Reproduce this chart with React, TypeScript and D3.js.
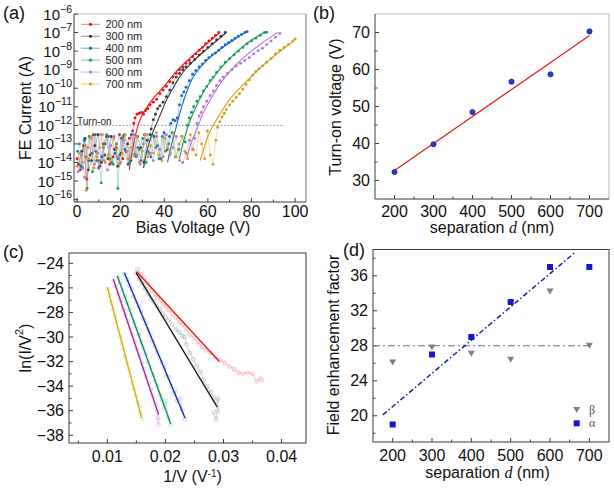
import React from 'react';
import * as d3 from 'd3';

type P = [number, number];

// ---------- Panel (a) data: [bias voltage V, log10(current A)] ----------
const SERIES_A = ['200 nm', '300 nm', '400 nm', '500 nm', '600 nm', '700 nm'];
const COLORS_A = ['#e8141c', '#3a3a3a', '#1767c8', '#1e9a66', '#b276d6', '#d1a01e'];

const A200: P[] = [[0,-13.8],[1.5,-14.4],[3,-13.1],[4.5,-14.9],[6,-13.6],[7.5,-12.5],[9,-13.9],[10.5,-14.2],[12,-13.0],[13.5,-12.6],[15,-14.1],[16.5,-13.7],[18,-13.2],[19.5,-12.5],[21,-13.8],[22.5,-13.4],[24,-12.7],
  [25.5,-12.3],[26,-11.9],[26.6,-11.6],[27.5,-11.4],[28.5,-11.35],[29.5,-11.3],[30.5,-11.4],[31.5,-11.2],[32.5,-11.1],[33.5,-10.9],[35,-10.75],[36.5,-10.6],[38,-10.3],[39.5,-10.1],[41,-9.9],[42.5,-9.65],[44,-9.4],[45.5,-9.2],[47,-9.0],[48.5,-8.85],[50,-8.65],[51.5,-8.5],[53,-8.3],[54.5,-8.15],[56,-7.95],[57.5,-7.8],[59,-7.6],[60.5,-7.45],[62,-7.3],[63.5,-7.15],[65,-7.0]];
const A300: P[] = [[0.7,-14.1],[2.2,-13.4],[3.7,-12.7],[5.2,-14.4],[6.7,-13.9],[8.2,-13.1],[9.7,-12.5],[11.2,-14.0],[12.7,-13.6],[14.2,-13.8],[15.7,-12.6],[17.2,-13.3],[18.7,-14.2],[20.2,-13.5],[21.7,-12.5],[23.2,-13.0],[24.7,-13.9],[26.2,-13.6],[27.7,-12.6],[29.2,-13.2],[30.7,-14.0],[32.2,-12.8],[33.5,-12.5],
  [34,-12.2],[35,-11.7],[36,-11.4],[37,-11.1],[38,-10.95],[39.5,-10.75],[41,-10.45],[42.5,-10.1],[44,-9.7],[45.5,-9.4],[47,-9.2],[48.5,-9.0],[50,-8.85],[52,-8.65],[54,-8.45],[56,-8.2],[58,-8.0],[60,-7.8],[62,-7.6],[64,-7.4],[66,-7.2],[68,-7.0]];
const A400: P[] = [[0.3,-13.4],[1.8,-14.2],[3.3,-12.8],[4.6,-15.4],[5.4,-13.9],[6.9,-13.5],[8.4,-12.5],[9.9,-14.3],[11.4,-13.7],[12.9,-13.0],[14.4,-12.6],[15.9,-14.0],[17.4,-13.5],[18.9,-13.8],[20.4,-12.7],[21.9,-13.3],[23.4,-14.1],[24.9,-12.5],[26.4,-13.6],[27.9,-13.2],[29.4,-13.9],[30.9,-12.5],[32.4,-13.4],[33.9,-13.7],[35.4,-12.6],[36.9,-13.1],[38.4,-13.8],[39.9,-12.4],[41.4,-13.3],[42.4,-12.6],
  [43,-11.9],[44,-11.7],[45,-11.75],[46,-11.6],[47,-10.9],[48,-10.4],[49,-10.2],[50,-9.95],[51.5,-9.6],[53,-9.25],[54.5,-9.05],[56,-8.85],[57.5,-8.7],[59,-8.5],[60.5,-8.35],[62,-8.2],[63.5,-8.1],[65,-7.95],[66.5,-7.8],[68,-7.65],[69.5,-7.55],[71,-7.42],[72.5,-7.3],[74,-7.2],[75.5,-7.1],[77,-7.0],[78,-6.95]];
const A500: P[] = [[1.1,-13.0],[2.6,-14.3],[4.1,-13.7],[5.6,-12.6],[7.1,-14.5],[8.6,-13.4],[10.1,-13.9],[11.1,-15.1],[12.1,-13.2],[13.6,-12.5],[15.1,-13.8],[16.6,-14.1],[18.1,-13.0],[18.7,-15.4],[19.6,-13.6],[21.1,-12.6],[22.6,-13.4],[24.1,-14.0],[25.6,-12.5],[27.1,-13.7],[28.6,-13.3],[30.1,-12.7],[31.6,-14.0],[33.1,-13.5],[34.6,-12.5],[36.1,-13.2],[37.6,-13.8],[39.1,-12.6],[40.6,-13.4],[42.1,-13.0],[43.6,-12.4],[45.1,-13.7],[46.6,-13.3],[48.1,-12.6],[49.6,-12.9],
  [50.5,-12.0],[51.5,-11.6],[52.5,-11.3],[53.5,-11.0],[55,-10.7],[56.5,-10.45],[58,-10.15],[59.5,-9.9],[61,-9.6],[62.5,-9.4],[64,-9.15],[66,-8.85],[68,-8.6],[70,-8.4],[72,-8.2],[74,-8.0],[76,-7.8],[78,-7.6],[80,-7.45],[82,-7.3],[84,-7.15],[86,-7.0],[87,-6.98]];
const A600: P[] = [[0.5,-14.5],[2,-13.6],[3.5,-14.8],[5,-13.2],[6.5,-12.7],[8,-14.1],[9.5,-13.5],[11,-12.5],[12.5,-13.9],[14,-14.4],[15.5,-13.1],[17,-12.6],[18.5,-13.7],[20,-14.0],[21.5,-12.8],[23,-13.4],[24.5,-13.8],[26,-12.5],[27.5,-13.6],[29,-14.1],[30.5,-13.0],[32,-12.5],[33.5,-13.5],[35,-13.9],[36.5,-12.6],[38,-13.3],[39.5,-13.7],[41,-12.5],[42.5,-13.6],[44,-13.2],[45.5,-12.6],[47,-13.9],[48.5,-14.0],[50,-13.5],[51.5,-12.8],[53,-13.3],[54,-12.7],
  [55,-11.9],[56,-11.5],[57,-11.3],[58,-11.0],[59.5,-10.7],[61,-10.4],[62.5,-10.15],[64,-9.85],[65.5,-9.6],[67,-9.4],[69,-9.2],[71,-9.0],[73,-8.8],[75,-8.65],[77,-8.5],[79,-8.35],[81,-8.15],[83,-7.98],[85,-7.85],[87,-7.65],[89,-7.45],[91,-7.25],[93,-7.05]];
const A700: P[] = [[0,-14.2],[1.3,-13.5],[2.6,-14.0],[3.9,-13.1],[4.3,-15.5],[5.2,-13.8],[6.5,-12.6],[7.8,-14.3],[9.1,-13.7],[10.4,-13.2],[11.7,-12.5],[13,-14.0],[14.3,-13.6],[15.6,-13.9],[16.9,-12.7],[18.2,-13.3],[19.5,-14.1],[20.8,-13.5],[22.1,-12.5],[23.4,-13.8],[24.7,-13.2],[26,-13.6],[27.3,-12.6],[28.6,-14.0],[29.9,-13.4],[31.2,-12.5],[32.5,-13.7],[33.8,-13.1],[35.1,-13.5],[36.4,-12.4],[37.7,-13.6],[39,-13.9],[40.3,-12.7],[41.6,-13.2],[42.9,-13.5],[44.2,-12.4],[45.5,-13.7],[46.8,-13.0],[48.1,-12.6],[49.4,-13.4],[50.7,-13.8],[52,-12.5],[53.3,-13.3],[54.6,-13.6],[55.9,-12.4],[57.2,-13.0],[58.5,-13.8],[59.8,-12.3],[61.1,-13.6],[62.4,-14.1],[63.7,-12.8],
  [64.5,-12.1],[65.5,-11.8],[66.5,-11.55],[67.5,-11.35],[68.5,-11.15],[70,-10.9],[71.5,-10.7],[73,-10.5],[74.5,-10.3],[76,-10.05],[77.5,-9.8],[79,-9.55],[80.5,-9.3],[82,-9.1],[83.5,-8.95],[85,-8.8],[87,-8.6],[89,-8.4],[91,-8.15],[93,-7.95],[95,-7.8],[97,-7.65],[99,-7.45],[100,-7.35]];
const DATA_A = [A200, A300, A400, A500, A600, A700];

const FIT_A: P[][] = [
  [[24,-14.4],[25,-13.6],[26.5,-12.7],[28,-12.0],[30,-11.4],[32.5,-10.95],[35,-10.55],[38,-10.15],[41,-9.75],[44,-9.3],[48,-8.8],[52,-8.35],[56,-7.95],[60,-7.55],[65,-7.05]],
  [[30.5,-14.3],[32,-13.4],[34,-12.6],[36.5,-11.9],[39,-11.2],[41,-10.65],[44,-10.0],[47,-9.4],[50,-8.95],[55,-8.35],[60,-7.85],[64,-7.45],[68,-7.05]],
  [[41.5,-14.0],[43,-13.2],[45,-12.3],[47.5,-11.2],[50,-10.3],[53,-9.45],[56,-8.95],[60,-8.45],[65,-7.95],[70,-7.55],[75,-7.15],[78,-6.95]],
  [[47,-13.8],[48.5,-13.0],[50,-12.4],[52,-11.7],[55,-10.9],[58,-10.2],[62,-9.5],[66,-8.9],[70,-8.4],[75,-7.85],[80,-7.4],[86,-6.98]],
  [[50.5,-13.7],[52.5,-12.9],[55,-12.2],[58,-11.3],[62,-10.45],[66,-9.7],[70,-9.1],[75,-8.5],[80,-8.0],[85,-7.55],[90,-7.15],[92,-7.0]],
  [[56.5,-13.9],[58,-13.3],[60,-12.6],[62.5,-12.0],[65.5,-11.4],[70,-10.6],[75,-9.95],[80,-9.35],[85,-8.8],[90,-8.3],[95,-7.85],[99,-7.5]],
];
const TURN_ON_A: P[] = [[0,-12],[95,-12]];
const XTICKS_A = [0, 20, 40, 60, 80, 100];
const XMINOR_A = [10, 30, 50, 70, 90];
const YEXP_A = [-16, -15, -14, -13, -12, -11, -10, -9, -8, -7, -6];

// ---------- Panel (b) ----------
const SEP = [200, 300, 400, 500, 600, 700];
const TURN_ON_V = [32.3, 39.8, 48.5, 56.7, 58.7, 70.3];
const FIT_B: P[] = [[200, 32.7], [700, 69.2]];
const XTICKS_BD = [200, 300, 400, 500, 600, 700];
const XMINOR_BD = [250, 350, 450, 550, 650];
const YTICKS_B = [30, 40, 50, 60, 70];
const YMINOR_B = [35, 45, 55, 65];

// ---------- Panel (c): [1/V, ln(I/V^2)] ----------
const COLORS_C = ['#e02020', '#1e1e1e', '#22309e', '#119060', '#a22ea2', '#c9b51c'];
const LIGHT_C = ['#f2a8a8', '#b8b8b8', '#a8c4e4', '#a6dcc0', '#dcb4e4', '#e2dc94'];
const FIT_C: P[][] = [
  [[0.01506,-24.68],[0.02928,-32.0]],
  [[0.01494,-24.76],[0.02893,-35.7]],
  [[0.01293,-24.76],[0.02337,-36.6]],
  [[0.01172,-25.03],[0.02091,-37.07]],
  [[0.01103,-25.3],[0.01884,-36.34]],
  [[0.0100,-25.95],[0.01592,-36.6]],
];
const C200: P[] = [[0.0152,-24.5],[0.0158,-24.9],[0.0163,-25.2],[0.0168,-25.6],[0.0172,-25.9],[0.0177,-26.2],[0.0182,-26.5],[0.0186,-26.8],[0.0191,-27.0],[0.0196,-27.3],[0.0201,-27.5],[0.0206,-27.8],[0.0212,-28.1],[0.0218,-28.4],[0.0224,-28.8],[0.023,-29.0],[0.0236,-29.4],[0.0242,-29.8],[0.0249,-30.1],[0.0256,-30.4],[0.0263,-30.8],[0.027,-31.1],[0.0278,-31.3],[0.0286,-31.6],[0.0294,-31.9],[0.0302,-32.1],[0.031,-32.4],[0.0318,-32.6],[0.0326,-32.9],[0.0334,-33.0],[0.0342,-32.9],[0.035,-33.0],[0.0357,-33.6],[0.0363,-33.4],[0.0366,-33.5]];
const C300: P[] = [[0.0150,-24.8],[0.0155,-25.3],[0.016,-25.6],[0.0165,-26.1],[0.017,-26.5],[0.0175,-26.9],[0.018,-27.1],[0.0185,-27.5],[0.019,-27.7],[0.0195,-28.1],[0.02,-28.4],[0.0206,-28.6],[0.0212,-29.0],[0.0218,-29.4],[0.0224,-29.6],[0.0229,-29.9],[0.0233,-30.0],[0.0236,-30.6],[0.0242,-31.3],[0.0248,-31.8],[0.0254,-32.4],[0.026,-32.8],[0.0266,-33.5],[0.0272,-34.0],[0.0278,-34.5],[0.0283,-34.9],[0.0288,-35.2],[0.0291,-35.0],[0.029,-36.0],[0.0287,-36.7],[0.0283,-36.1]];
const C400: P[] = [[0.0130,-24.9],[0.0134,-25.3],[0.0138,-25.8],[0.0142,-26.1],[0.0146,-26.7],[0.015,-27.1],[0.0154,-27.5],[0.0158,-27.9],[0.0162,-28.5],[0.0166,-28.9],[0.017,-29.4],[0.0174,-29.8],[0.0178,-30.3],[0.0182,-30.8],[0.0186,-31.2],[0.019,-31.6],[0.0194,-32.1],[0.0198,-32.5],[0.0202,-33.2],[0.0206,-33.3],[0.021,-34.0],[0.0214,-34.6],[0.0217,-34.3],[0.022,-35.2],[0.0225,-35.0],[0.0229,-35.9],[0.0234,-36.7]];
const C500: P[] = [[0.0118,-25.1],[0.0122,-25.6],[0.0126,-26.2],[0.013,-26.7],[0.0134,-27.2],[0.0138,-27.8],[0.0142,-28.2],[0.0146,-28.8],[0.015,-29.3],[0.0154,-29.8],[0.0158,-30.4],[0.0162,-30.9],[0.0166,-31.4],[0.017,-32.0],[0.0174,-32.5],[0.0178,-33.1],[0.0182,-33.6],[0.0186,-34.0],[0.019,-34.7],[0.0194,-35.1],[0.0198,-35.8],[0.0201,-35.2],[0.0205,-36.6],[0.0209,-37.2]];
const C600: P[] = [[0.0111,-25.4],[0.0115,-25.9],[0.0119,-26.5],[0.0123,-27.0],[0.0127,-27.7],[0.0131,-28.2],[0.0135,-28.7],[0.0139,-29.3],[0.0143,-29.8],[0.0147,-30.4],[0.0151,-31.0],[0.0155,-31.5],[0.0159,-32.1],[0.0163,-32.6],[0.0167,-33.2],[0.0171,-33.8],[0.0175,-34.3],[0.0179,-34.8],[0.0183,-35.5],[0.0186,-36.0],[0.0188,-37.1],[0.0187,-36.6]];
const C700: P[] = [[0.0101,-26.1],[0.0104,-26.6],[0.0107,-27.2],[0.011,-27.7],[0.0113,-28.3],[0.0116,-28.8],[0.0119,-29.4],[0.0122,-29.9],[0.0125,-30.5],[0.0128,-31.0],[0.0131,-31.6],[0.0134,-32.1],[0.0137,-32.6],[0.014,-33.2],[0.0143,-33.7],[0.0146,-34.2],[0.0149,-34.8],[0.0152,-35.3],[0.0155,-35.6],[0.0157,-36.2],[0.0159,-36.7]];
const DATA_C = [C200, C300, C400, C500, C600, C700];
const XTICKS_C = [0.01, 0.02, 0.03, 0.04];
const XMINOR_C = [0.005, 0.015, 0.025, 0.035];
const YTICKS_C = [-24, -26, -28, -30, -32, -34, -36, -38];
const YMINOR_C = [-25, -27, -29, -31, -33, -35, -37];

// ---------- Panel (d) ----------
const BETA = [26.1, 27.8, 27.1, 26.4, 34.2, 28.0];
const ALPHA = [19.0, 27.0, 29.0, 33.0, 37.0, 37.0];
const BETA_MEAN: P[] = [[150, 28.0], [700, 28.0]];
const FIT_D: P[] = [[175, 20.1], [662, 38.6]];
const YTICKS_D = [20, 24, 28, 32, 36];
const YMINOR_D = [18, 22, 26, 30, 34, 38];

const FONT = 'Liberation Sans, Arial, sans-serif';
const SERIF = 'Liberation Serif, Times New Roman, serif';
const AX = '#3c3c3c';
const TICK_FS = 16;
const TITLE_FS = 16;

// scales
const xA = d3.scaleLinear().domain([-1.38, 105]).range([74, 306]);
const yA = d3.scaleLog().domain([Math.pow(10, -16.13), 1e-6]).range([202, 14]);
const xB = d3.scaleLinear().domain([150, 750]).range([375, 609]);
const yB = d3.scaleLinear().domain([25, 75]).range([199, 14]);
const xC = d3.scaleLinear().domain([0.0034, 0.0442]).range([69, 306]);
const yC = d3.scaleLinear().domain([-38.63, -23.16]).range([443, 253]);
const xD = d3.scaleLinear().domain([150, 750]).range([373, 609]);
const yD = d3.scaleLinear().domain([17, 39]).range([442, 249.5]);

const lineA = d3.line<P>().x(d => xA(d[0])).y(d => yA(Math.pow(10, d[1])));
const fitLineA = d3.line<P>().x(d => xA(d[0])).y(d => yA(Math.pow(10, d[1]))).curve(d3.curveCatmullRom);
const lineB = d3.line<P>().x(d => xB(d[0])).y(d => yB(d[1]));
const lineC = d3.line<P>().x(d => xC(d[0])).y(d => yC(d[1]));
const lineD = d3.line<P>().x(d => xD(d[0])).y(d => yD(d[1]));

function XTicks({ sc, ticks, minor, y0, fmt, labelY }: any) {
  return (
    <g>
      {ticks.map((t: number) => (
        <g key={'t' + t}>
          <line x1={sc(t)} x2={sc(t)} y1={y0} y2={y0 - 4} stroke={AX} strokeWidth={1} />
          <text x={sc(t)} y={labelY} textAnchor="middle" fontSize={TICK_FS} fontFamily={FONT} fill="#111">{fmt(t)}</text>
        </g>
      ))}
      {minor.map((t: number) => (
        <line key={'m' + t} x1={sc(t)} x2={sc(t)} y1={y0} y2={y0 - 2.5} stroke={AX} strokeWidth={1} />
      ))}
    </g>
  );
}

function YTicks({ sc, ticks, minor, x0, fmt, labelX }: any) {
  return (
    <g>
      {ticks.map((t: number) => (
        <g key={'t' + t}>
          <line x1={x0} x2={x0 + 4} y1={sc(t)} y2={sc(t)} stroke={AX} strokeWidth={1} />
          <text x={labelX} y={sc(t) + 5.7} textAnchor="end" fontSize={TICK_FS} fontFamily={FONT} fill="#111">{fmt(t)}</text>
        </g>
      ))}
      {minor.map((t: number) => (
        <line key={'m' + t} x1={x0} x2={x0 + 2.5} y1={sc(t)} y2={sc(t)} stroke={AX} strokeWidth={1} />
      ))}
    </g>
  );
}

const minus = (v: number) => (v < 0 ? '\u2212' + Math.abs(v) : String(v));

export default function App() {
  return (
    <svg width={614} height={488} viewBox="0 0 614 488" style={{ position: 'absolute', left: 0, top: 0, background: '#fff' }}>
      <rect x={0} y={0} width={614} height={488} fill="#fff" />

      {/* ================= Panel (a) ================= */}
      <g>
        <line x1={74} x2={306} y1={14} y2={14} stroke="#b8b8b8" strokeWidth={1} />
        <line x1={306} x2={306} y1={14} y2={202} stroke="#777" strokeWidth={1} />
        <line x1={74} x2={74} y1={14} y2={202} stroke={AX} strokeWidth={1} />
        <line x1={74} x2={306} y1={202} y2={202} stroke={AX} strokeWidth={1} />
        <path d={lineA(TURN_ON_A) || ''} stroke="#8a8a8a" strokeWidth={0.8} strokeDasharray="2,1.5" fill="none" />
        <text x={77} y={124.5} fontSize={10} fontFamily={FONT} fill="#222">Turn-on</text>
        {DATA_A.map((s, i) => (
          <g key={'a' + i}>
            <path d={lineA(s) || ''} stroke={COLORS_A[i]} strokeWidth={0.55} strokeOpacity={0.6} fill="none" />
            {s.map((p, j) => (
              <circle key={j} cx={xA(p[0])} cy={yA(Math.pow(10, p[1]))} r={1.45} fill={COLORS_A[i]} />
            ))}
            <path d={fitLineA(FIT_A[i]) || ''} stroke={COLORS_A[i]} strokeWidth={1.1} fill="none" />
          </g>
        ))}
        {XTICKS_A.map(t => (
          <g key={'ax' + t}>
            <line x1={xA(t)} x2={xA(t)} y1={202} y2={198} stroke={AX} />
            <text x={xA(t)} y={216.5} textAnchor="middle" fontSize={TICK_FS} fontFamily={FONT} fill="#111">{t}</text>
          </g>
        ))}
        {XMINOR_A.map(t => (
          <line key={'axm' + t} x1={xA(t)} x2={xA(t)} y1={202} y2={199.5} stroke={AX} />
        ))}
        {YEXP_A.map(e => (
          <g key={'ay' + e}>
            <line x1={74} x2={78} y1={yA(Math.pow(10, e))} y2={yA(Math.pow(10, e))} stroke={AX} />
            <text x={72} y={yA(Math.pow(10, e)) + 5.5} textAnchor="end" fontSize={15} fontFamily={FONT} fill="#111">
              10<tspan fontSize={10.5} dy={-7}>{minus(e)}</tspan>
            </text>
          </g>
        ))}
        {SERIES_A.map((name, i) => (
          <g key={'lg' + i}>
            <line x1={81} x2={100} y1={24.3 + i * 11.95} y2={24.3 + i * 11.95} stroke={COLORS_A[i]} strokeWidth={0.8} strokeOpacity={0.7} />
            <circle cx={90.5} cy={24.3 + i * 11.95} r={1.6} fill={COLORS_A[i]} />
            <text x={105.5} y={24.3 + i * 11.95} dominantBaseline="central" fontSize={11} fontFamily={FONT} fill="#222">{name}</text>
          </g>
        ))}
        <text transform="translate(25,108) rotate(-90)" textAnchor="middle" dominantBaseline="central" fontSize={TITLE_FS} fontFamily={FONT} fill="#111">FE Current (A)</text>
        <text x={193} y={233} textAnchor="middle" fontSize={TITLE_FS} fontFamily={FONT} fill="#111">Bias Voltage (V)</text>
        <text x={3} y={19} fontSize={18} fontFamily={FONT} fill="#111">(a)</text>
      </g>

      {/* ================= Panel (b) ================= */}
      <g>
        <line x1={375} x2={609} y1={14} y2={14} stroke="#b8b8b8" strokeWidth={1} />
        <line x1={609} x2={609} y1={14} y2={199} stroke="#b8b8b8" strokeWidth={1} />
        <line x1={375} x2={375} y1={14} y2={199} stroke={AX} strokeWidth={1} />
        <line x1={375} x2={609} y1={199} y2={199} stroke={AX} strokeWidth={1} />
        <XTicks sc={xB} ticks={XTICKS_BD} minor={XMINOR_BD} y0={199} fmt={(t: number) => String(t)} labelY={216.5} />
        <YTicks sc={yB} ticks={YTICKS_B} minor={YMINOR_B} x0={375} fmt={(t: number) => String(t)} labelX={370} />
        <path d={lineB(FIT_B) || ''} stroke="#e01818" strokeWidth={1.2} fill="none" />
        {SEP.map((s, i) => (
          <circle key={'b' + i} cx={xB(s)} cy={yB(TURN_ON_V[i])} r={2.6} fill="#2a3cd0" stroke="#101a78" strokeWidth={0.7} />
        ))}
        <text transform="translate(335,107) rotate(-90)" textAnchor="middle" dominantBaseline="central" fontSize={TITLE_FS} fontFamily={FONT} fill="#111">Turn-on voltage (V)</text>
        <text x={492} y={233} textAnchor="middle" fontSize={TITLE_FS} fontFamily={FONT} fill="#111">
          separation <tspan fontFamily={SERIF} fontStyle="italic">d</tspan> (nm)
        </text>
        <text x={313} y={19} fontSize={18} fontFamily={FONT} fill="#111">(b)</text>
      </g>

      {/* ================= Panel (c) ================= */}
      <g>
        <rect x={69} y={253} width={237} height={190} fill="none" stroke={AX} strokeWidth={1} />
        <XTicks sc={xC} ticks={XTICKS_C} minor={XMINOR_C} y0={443} fmt={(t: number) => t.toFixed(2)} labelY={462} />
        <YTicks sc={yC} ticks={YTICKS_C} minor={YMINOR_C} x0={69} fmt={(t: number) => minus(t)} labelX={64} />
        {DATA_C.map((s, i) => (
          <g key={'c' + i}>
            <path d={lineC(s) || ''} stroke={LIGHT_C[i]} strokeWidth={0.7} fill="none" />
            {s.map((p, j) => (
              <circle key={j} cx={xC(p[0])} cy={yC(p[1])} r={1.9} fill="none" stroke={LIGHT_C[i]} strokeWidth={0.7} />
            ))}
          </g>
        ))}
        {FIT_C.map((f, i) => (
          <path key={'cf' + i} d={lineC(f) || ''} stroke={COLORS_C[i]} strokeWidth={1.4} fill="none" />
        ))}
        <text transform="translate(25,348) rotate(-90)" textAnchor="middle" dominantBaseline="central" fontSize={TITLE_FS} fontFamily={FONT} fill="#111">
          ln(I/V<tspan fontSize={11} dy={-6}>2</tspan><tspan dy={6}>)</tspan>
        </text>
        <text x={192.5} y={482} textAnchor="middle" fontSize={TITLE_FS} fontFamily={FONT} fill="#111">
          1/V (V<tspan fontSize={10} dy={-5}>-1</tspan><tspan dy={5}>)</tspan>
        </text>
        <text x={3} y={258} fontSize={18} fontFamily={FONT} fill="#111">(c)</text>
      </g>

      {/* ================= Panel (d) ================= */}
      <g>
        <rect x={373} y={249.5} width={236} height={192.5} fill="none" stroke={AX} strokeWidth={1} />
        <XTicks sc={xD} ticks={XTICKS_BD} minor={XMINOR_BD} y0={442} fmt={(t: number) => String(t)} labelY={461} />
        <YTicks sc={yD} ticks={YTICKS_D} minor={YMINOR_D} x0={373} fmt={(t: number) => String(t)} labelX={368} />
        <path d={lineD(BETA_MEAN) || ''} stroke="#6e6e98" strokeWidth={1.2} strokeDasharray="7,3,2,3" fill="none" />
        <path d={lineD(FIT_D) || ''} stroke="#1a1aa8" strokeWidth={1.5} strokeDasharray="5,2.5,1.5,2.5" fill="none" />
        {SEP.map((s, i) => (
          <path key={'be' + i} d={`M${xD(s) - 3.5},${yD(BETA[i]) - 3} L${xD(s) + 3.5},${yD(BETA[i]) - 3} L${xD(s)},${yD(BETA[i]) + 3} Z`} fill="#808080" />
        ))}
        {SEP.map((s, i) => (
          <rect key={'al' + i} x={xD(s) - 3} y={yD(ALPHA[i]) - 3} width={6} height={6} fill="#1616d0" />
        ))}
        <path d="M573.2,407 L580.2,407 L576.7,413 Z" fill="#808080" />
        <rect x={573.7} y={420.3} width={6} height={6} fill="#1616d0" />
        <text x={589} y={410} dominantBaseline="central" fontSize={12} fontFamily={SERIF} fill="#555">β</text>
        <text x={589} y={423.3} dominantBaseline="central" fontSize={12} fontFamily={SERIF} fill="#555">α</text>
        <text transform="translate(333.5,345) rotate(-90)" textAnchor="middle" dominantBaseline="central" fontSize={TITLE_FS} fontFamily={FONT} fill="#111">Field enhancement factor</text>
        <text x={487.5} y={478} textAnchor="middle" fontSize={TITLE_FS} fontFamily={FONT} fill="#111">
          separation <tspan fontFamily={SERIF} fontStyle="italic">d</tspan> (nm)
        </text>
        <text x={343} y={256} fontSize={18} fontFamily={FONT} fill="#111">(d)</text>
      </g>
    </svg>
  );
}
